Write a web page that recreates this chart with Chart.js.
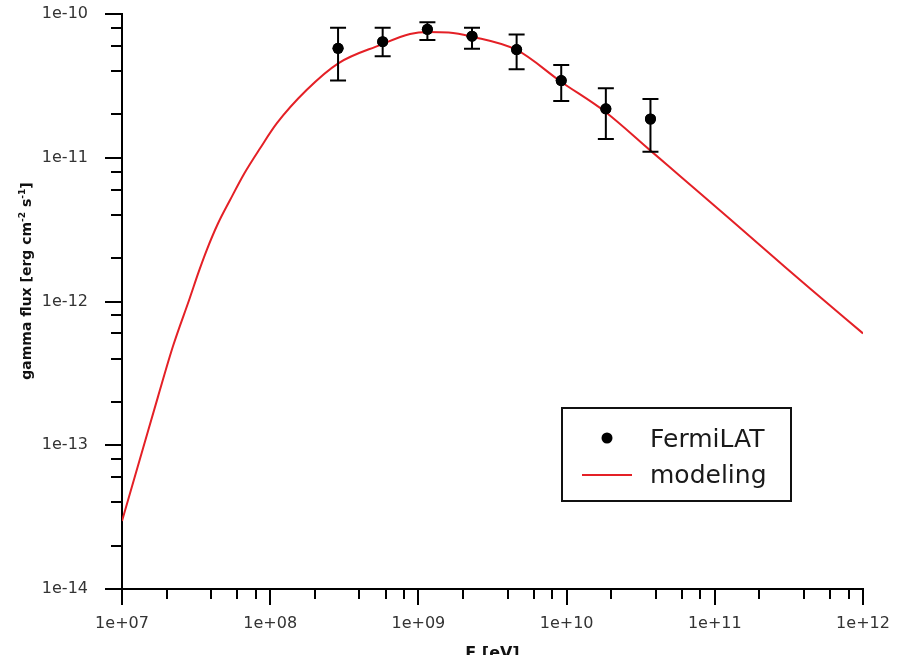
<!DOCTYPE html>
<html>
<head>
<meta charset="utf-8">
<script src="https://cdn.jsdelivr.net/npm/chart.js@4.4.1/dist/chart.umd.min.js"></script>
<style>
  html, body { margin: 0; padding: 0; background: #fff; }
  #sed { display: block; }
</style>
</head>
<body>
<canvas id="sed" width="899" height="655"></canvas>
<script>
// Fermi-LAT points with error bars
const fermiE = [2.87e8, 5.74e8, 1.15e9, 2.30e9, 4.60e9, 9.2e9, 1.84e10, 3.68e10];
const fermiFlux = [5.77e-11, 6.42e-11, 7.83e-11, 7.01e-11, 5.66e-11, 3.44e-11, 2.19e-11, 1.86e-11];
const fermiLow = [3.44e-11, 5.09e-11, 6.60e-11, 5.74e-11, 4.12e-11, 2.48e-11, 1.35e-11, 1.10e-11];
const fermiHigh = [8.03e-11, 8.03e-11, 8.75e-11, 8.03e-11, 7.20e-11, 4.42e-11, 3.04e-11, 2.56e-11];

// model curve
const modelE = [1e7, 1.39e7, 1.75e7, 2.21e7, 2.86e7, 3.30e7, 3.73e7, 4.45e7, 5.36e7, 6.70e7, 8.53e7, 1.11e8,
  1.76e8, 2.88e8, 5.51e8, 8.78e8, 1.15e9, 1.60e9, 2.30e9, 4.60e9, 9.16e9, 1.82e10, 3.65e10,
  5.82e10, 1.27e11, 2.48e11, 4.39e11, 1e12];
const modelFlux = [2.97e-14, 9.60e-14, 2.18e-13, 4.90e-13, 1.05e-12, 1.62e-12, 2.28e-12, 3.50e-12, 5.08e-12, 7.80e-12, 1.16e-11, 1.74e-11,
  2.96e-11, 4.54e-11, 6.08e-11, 7.26e-11, 7.50e-11, 7.44e-11, 6.95e-11, 5.62e-11, 3.38e-11, 2.09e-11, 1.13e-11,
  7.46e-12, 3.73e-12, 2.05e-12, 1.23e-12, 6.0e-13];

const xTickLabels = ["1e+07", "1e+08", "1e+09", "1e+10", "1e+11", "1e+12"];
const yTickLabels = ["1e-14", "1e-13", "1e-12", "1e-11", "1e-10"];
const minorSteps = [2, 4, 6, 8];

const FONT = "'DejaVu Sans', Verdana, sans-serif";
const RED = "rgb(228, 32, 38)";

function decadeTicks(labels) {
  const majors = labels.map(Number);
  const ticks = [];
  majors.forEach((v, i) => {
    ticks.push({ value: v, major: true, label: labels[i] });
    if (i < majors.length - 1) minorSteps.forEach(m => ticks.push({ value: v * m, major: false, label: "" }));
  });
  return ticks;
}

// outward tick marks, long at decades and short in between
const tickMarks = {
  id: "tickMarks",
  afterDraw(chart) {
    const { ctx, chartArea } = chart;
    const xs = chart.scales.x, ys = chart.scales.y;
    ctx.save();
    ctx.strokeStyle = "#000";
    ctx.lineWidth = 2;
    ctx.beginPath();
    xs.ticks.forEach(t => {
      const px = Math.round(xs.getPixelForValue(t.value));
      ctx.moveTo(px, chartArea.bottom);
      ctx.lineTo(px, chartArea.bottom + (t.major ? 16 : 10));
    });
    ys.ticks.forEach(t => {
      const py = Math.round(ys.getPixelForValue(t.value));
      ctx.moveTo(chartArea.left, py);
      ctx.lineTo(chartArea.left - (t.major ? 17 : 11), py);
    });
    ctx.stroke();

    // axis titles
    ctx.fillStyle = "#111";
    ctx.textBaseline = "alphabetic";
    ctx.font = "bold 16px " + FONT;
    ctx.textAlign = "center";
    ctx.fillText("E [eV]", (chartArea.left + chartArea.right) / 2, 658);

    const parts = [
      { t: "gamma flux [erg cm", sup: false },
      { t: "-2", sup: true },
      { t: " s", sup: false },
      { t: "-1", sup: true },
      { t: "]", sup: false },
    ];
    const big = "bold 14px " + FONT, small = "bold 9px " + FONT;
    let total = 0;
    parts.forEach(p => { ctx.font = p.sup ? small : big; p.w = ctx.measureText(p.t).width; total += p.w; });
    ctx.translate(31, 281);
    ctx.rotate(-Math.PI / 2);
    ctx.textAlign = "left";
    let x = -total / 2;
    parts.forEach(p => {
      ctx.font = p.sup ? small : big;
      ctx.fillText(p.t, x, p.sup ? -6 : 0);
      x += p.w;
    });
    ctx.restore();
  }
};

// vertical error bars with caps
const errorBars = {
  id: "errorBars",
  afterDatasetsDraw(chart) {
    const { ctx } = chart;
    const xs = chart.scales.x, ys = chart.scales.y;
    ctx.save();
    ctx.strokeStyle = "#000";
    ctx.lineWidth = 2;
    ctx.beginPath();
    fermiE.forEach((e, i) => {
      const px = xs.getPixelForValue(e);
      const top = ys.getPixelForValue(fermiHigh[i]);
      const bot = ys.getPixelForValue(fermiLow[i]);
      ctx.moveTo(px, top); ctx.lineTo(px, bot);
      ctx.moveTo(px - 8, top); ctx.lineTo(px + 8, top);
      ctx.moveTo(px - 8, bot); ctx.lineTo(px + 8, bot);
    });
    ctx.stroke();
    // redraw the dots over the bars
    ctx.fillStyle = "#000";
    fermiE.forEach((e, i) => {
      ctx.beginPath();
      ctx.arc(xs.getPixelForValue(e), ys.getPixelForValue(fermiFlux[i]), 5.5, 0, Math.PI * 2);
      ctx.fill();
    });
    ctx.restore();
  }
};

// boxed legend inside the plot
const boxLegend = {
  id: "boxLegend",
  afterDraw(chart) {
    const { ctx } = chart;
    const ds = chart.data.datasets;
    ctx.save();
    ctx.strokeStyle = "#111";
    ctx.lineWidth = 2;
    ctx.strokeRect(562, 408, 229, 93);
    ctx.fillStyle = "#000";
    ctx.beginPath();
    ctx.arc(607, 438, 5.5, 0, Math.PI * 2);
    ctx.fill();
    ctx.strokeStyle = RED;
    ctx.lineWidth = 2;
    ctx.beginPath();
    ctx.moveTo(582, 475); ctx.lineTo(632, 475);
    ctx.stroke();
    ctx.fillStyle = "#1a1a1a";
    ctx.font = "25px " + FONT;
    ctx.textAlign = "left";
    ctx.textBaseline = "alphabetic";
    ctx.fillText(ds[0].label, 650, 447);
    ctx.fillText(ds[1].label, 650, 483);
    ctx.restore();
  }
};

// hidden tick marks only push the labels away from the axis
const spacerGrid = len => ({
  display: true,
  drawOnChartArea: false,
  drawTicks: true,
  tickLength: len,
  tickColor: "rgba(0,0,0,0)",
});

new Chart(document.getElementById("sed"), {
  type: "scatter",
  data: {
    datasets: [
      {
        label: "FermiLAT",
        data: fermiE.map((e, i) => ({ x: e, y: fermiFlux[i] })),
        pointRadius: 5.5,
        pointBackgroundColor: "#000",
        pointBorderWidth: 0,
        showLine: false,
      },
      {
        label: "modeling",
        type: "line",
        data: modelE.map((e, i) => ({ x: e, y: modelFlux[i] })),
        borderColor: RED,
        borderWidth: 2,
        pointRadius: 0,
        cubicInterpolationMode: "monotone",
        fill: false,
      },
    ],
  },
  options: {
    responsive: false,
    animation: false,
    devicePixelRatio: 1,
    layout: { padding: { left: 0, top: 14, right: 36, bottom: 0 } },
    plugins: { legend: { display: false }, tooltip: { enabled: false } },
    scales: {
      x: {
        type: "logarithmic",
        min: 1e7,
        max: 1e12,
        afterBuildTicks: s => { s.ticks = decadeTicks(xTickLabels); },
        afterFit: s => { s.height = 66; },
        grid: spacerGrid(25),
        border: { display: true, color: "#000", width: 2 },
        ticks: {
          autoSkip: false,
          maxRotation: 0,
          padding: 0,
          color: "#333",
          font: { family: FONT, size: 16 },
          callback: (v, i, ticks) => ticks[i].label,
        },
      },
      y: {
        type: "logarithmic",
        min: 1e-14,
        max: 1e-10,
        afterBuildTicks: s => { s.ticks = decadeTicks(yTickLabels); },
        afterFit: s => { s.width = 122; },
        grid: spacerGrid(34),
        border: { display: true, color: "#000", width: 2 },
        ticks: {
          autoSkip: false,
          padding: 0,
          color: "#333",
          font: { family: FONT, size: 16 },
          callback: (v, i, ticks) => ticks[i].label,
        },
      },
    },
  },
  plugins: [tickMarks, errorBars, boxLegend],
});
</script>
</body>
</html>
